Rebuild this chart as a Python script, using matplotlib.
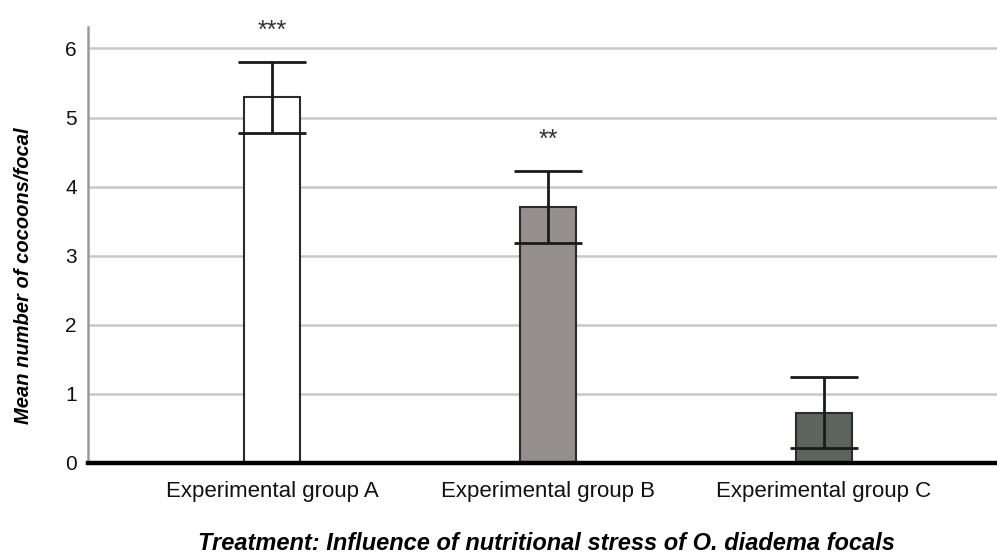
import matplotlib
matplotlib.use("Agg")
import matplotlib.pyplot as plt

groups = ["Experimental group A", "Experimental group B", "Experimental group C"]
means = [5.29, 3.70, 0.73]
errs = [0.52, 0.52, 0.52]
stars = ["***", "**", ""]
bar_colors = ["#ffffff", "#948f8e", "#5b645d"]
yticks = [0, 1, 2, 3, 4, 5, 6]

plt.rcParams['font.family'] = ['Liberation Sans', 'DejaVu Sans']

W, H = 997, 556
fig = plt.figure(figsize=(W / 100, H / 100), dpi=100)
# axes box in pixels: left 88, right 997, bottom 463, top 27
ax = fig.add_axes([88 / W, (H - 463) / H, (W - 88) / W, (463 - 27) / H])

x = list(range(len(groups)))
ax.bar(x, means, width=0.2, color=bar_colors, edgecolor="#2b2b2b", linewidth=1.5, zorder=3)
ax.errorbar(x, means, yerr=errs, fmt="none", ecolor="#1a1a1a", elinewidth=2,
            capsize=24.5, capthick=2, zorder=4)

for xi, m, e, s in zip(x, means, errs, stars):
    if s:
        ax.text(xi, m + e + 0.45, s, ha="center", va="center", fontsize=18,
                color="#333333", clip_on=False)

ax.set_xlim(-0.667, 2.627)
ax.set_ylim(0, 6.31)
ax.set_yticks(yticks)
ax.set_yticklabels([str(t) for t in yticks], fontsize=15)
ax.set_xticks(x)
ax.set_xticklabels(groups, fontsize=16)
ax.tick_params(axis="both", length=0, colors="#111111")
ax.tick_params(axis="y", pad=8)
ax.tick_params(axis="x", pad=13)

ax.grid(axis="y", color="#c8c8c8", linewidth=1.8, zorder=0)
ax.set_axisbelow(True)
for side in ["top", "right"]:
    ax.spines[side].set_visible(False)
ax.spines["left"].set_color("#9a9a9a")
ax.spines["left"].set_linewidth(1.8)
ax.spines["bottom"].set_color("#000000")
ax.spines["bottom"].set_linewidth(3.2)
ax.spines["bottom"].set_zorder(5)

fig.text(24 / W, 1 - 276 / H, "Mean number of cocoons/focal", rotation=90,
         ha="center", va="center", fontsize=14.5, fontweight="bold", fontstyle="italic")
fig.text(546 / W, 1 - 543 / H, "Treatment: Influence of nutritional stress of O. diadema focals",
         ha="center", va="center", fontsize=17, fontweight="bold", fontstyle="italic")

fig.savefig("out.png", dpi=100)
